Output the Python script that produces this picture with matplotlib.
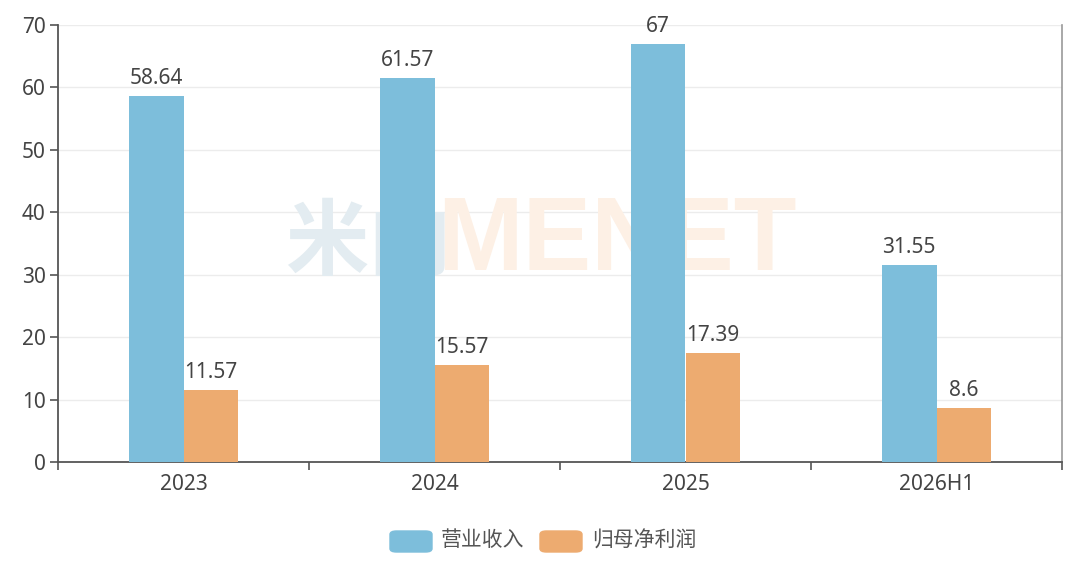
import numpy as np
import matplotlib.pyplot as plt
from matplotlib.patches import FancyBboxPatch

plt.rcParams['font.family'] = ['Noto Sans', 'Noto Sans CJK SC', 'DejaVu Sans']

categories = ['2023', '2024', '2025', '2026H1']
revenue = [58.64, 61.57, 67, 31.55]
net_profit = [11.57, 15.57, 17.39, 8.6]
series_names = ['营业收入', '归母净利润']
colors = ['#7dbedb', '#edab70']
text_color = '#444444'

fig = plt.figure(figsize=(10.8, 5.66), dpi=100)
ax = fig.add_axes([58 / 1080, 1 - 462 / 566, 1004 / 1080, 437 / 566])

x = np.arange(len(categories))
w = 0.217
b1 = ax.bar(x - w / 2, revenue, w, color=colors[0], zorder=3)
b2 = ax.bar(x + w / 2, net_profit, w, color=colors[1], zorder=3)

for bars, vals in [(b1, revenue), (b2, net_profit)]:
    for rect, v in zip(bars, vals):
        ax.annotate(f'{v:g}', (rect.get_x() + rect.get_width() / 2, v),
                    xytext=(0, 5), textcoords='offset points',
                    ha='center', va='bottom', fontsize=15, color=text_color, zorder=4)

ax.set_xlim(-0.5, len(categories) - 0.5)
ax.set_ylim(0, 70)
ax.set_yticks(range(0, 71, 10))
ax.yaxis.grid(True, color='#ececec', linewidth=1, zorder=0)
ax.set_axisbelow(True)

ax.set_xticks(x)
ax.set_xticklabels(categories)
ax.tick_params(axis='x', length=0, pad=9, labelsize=15, labelcolor=text_color)
ax.set_xticks(np.arange(-0.5, len(categories)), minor=True)
ax.tick_params(axis='x', which='minor', length=6, width=1.2, color='#555555', direction='out')
ax.tick_params(axis='y', length=6, width=1.2, color='#555555', labelsize=15,
               labelcolor=text_color, pad=3)

ax.spines['top'].set_visible(False)
ax.spines['left'].set_color('#555555')
ax.spines['left'].set_linewidth(1.3)
ax.spines['bottom'].set_color('#555555')
ax.spines['bottom'].set_linewidth(1.3)
ax.spines['right'].set_color('#999999')
ax.spines['right'].set_linewidth(1.2)

# watermark, behind the bars
ax.text(285 / 1080, 1 - 244 / 566, '米内', fontsize=60, fontweight='bold',
        color='#e3ecf1', ha='left', va='center', zorder=1,
        transform=fig.transFigure, family=['Noto Sans CJK SC', 'DejaVu Sans'])
ax.text(437 / 1080, 1 - 244 / 566, 'MENET', fontsize=74, fontweight='bold',
        color='#fdf0e5', ha='left', va='center', zorder=1,
        transform=fig.transFigure, family=['Liberation Sans', 'DejaVu Sans'])

# legend
for (bx, tx), name, c in zip([(390, 441), (540, 592)], series_names, colors):
    fig.patches.append(FancyBboxPatch((bx / 1080, 1 - 552 / 566), 42 / 1080, 21 / 566,
                                      boxstyle='round,pad=0,rounding_size=0.006',
                                      transform=fig.transFigure, color=c))
    fig.text(tx / 1080, 1 - 541 / 566, name, fontsize=15, color='#555555',
             ha='left', va='center')

fig.savefig('out.png', dpi=100)
